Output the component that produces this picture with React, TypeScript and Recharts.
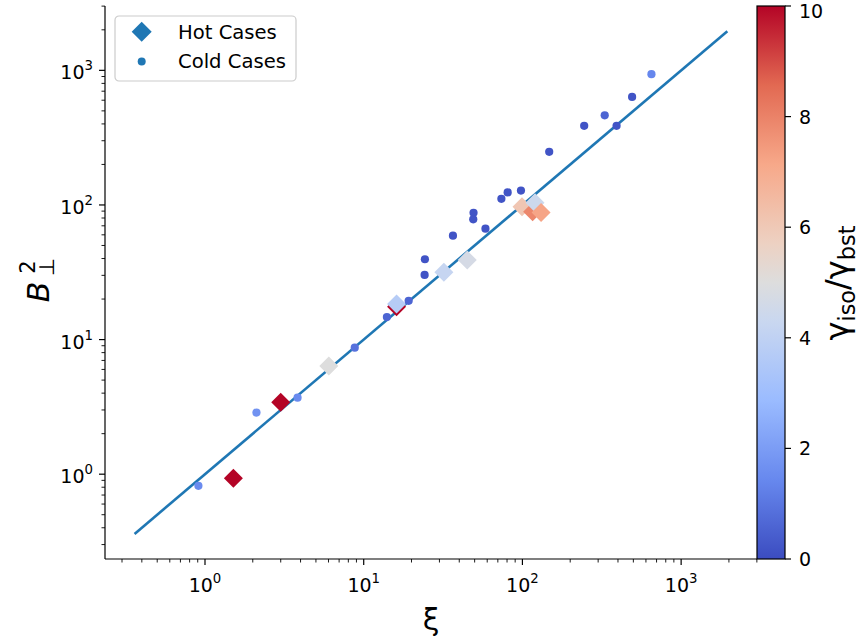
import React from "react";
import { Legend, Scatter, ScatterChart, XAxis, YAxis } from "recharts";

// hot cases (diamonds): xi, B_perp^2, gamma_iso/gamma_bst
const HOT_XI = [1.51, 3.0, 6.03, 16.1, 16.1, 32.0, 44.9, 99.4, 116, 120, 131];
const HOT_B2 = [0.934, 3.42, 6.37, 17.5, 18.4, 31.6, 39.0, 97, 89, 104, 88];
const HOT_RATIO = [10, 10, 5.0, 10, 3.7, 4.2, 4.7, 6.1, 7.9, 4.4, 7.2];

// cold cases (dots)
const COLD_XI = [0.909, 2.11, 3.83, 8.78, 14.0, 19.2, 24.2, 24.3, 36.5, 49.2, 49.0, 58.5, 73.7, 80.7, 97.9, 147.5, 245, 330, 392, 491, 650];
const COLD_B2 = [0.819, 2.87, 3.7, 8.71, 14.7, 19.4, 30.2, 39.5, 59.1, 87.5, 78.2, 66.6, 111, 124, 128, 248, 387, 463, 387, 635, 937];
const COLD_RATIO = [1.5, 1.7, 1.5, 0.9, 0.6, 0.6, 0.2, 0.2, 0.2, 0.2, 0.2, 0.2, 0.2, 0.2, 0.2, 0.2, 0.2, 0.6, 0.2, 0.2, 1.4];

// reference line B^2 = xi
const FIT_XI = [0.36, 1955];
const FIT_B2 = [0.36, 1955];

const AXIS_MIN = 0.2344;
const AXIS_MAX = 3006;
const LOG_TICKS = [
  0.3, 0.4, 0.5, 0.6, 0.7, 0.8, 0.9, 1, 2, 3, 4, 5, 6, 7, 8, 9, 10, 20, 30, 40, 50, 60, 70, 80, 90,
  100, 200, 300, 400, 500, 600, 700, 800, 900, 1000, 2000, 3000
];

const CBAR_MIN = 0;
const CBAR_MAX = 10;
const CBAR_TICKS = [0, 2, 4, 6, 8, 10];

const FONT = "DejaVu Sans";
const C0 = "#1f77b4";

const COOLWARM: [number, string][] = [
  [0, "#3b4cc0"],
  [1 / 7, "#6788ee"],
  [2 / 7, "#9abbff"],
  [3 / 7, "#c9d7f0"],
  [0.5, "#dddddd"],
  [4 / 7, "#edd1c2"],
  [5 / 7, "#f7a889"],
  [6 / 7, "#e26952"],
  [1, "#b40426"]
];

function hexToRgb(h: string) {
  return [1, 3, 5].map((i) => parseInt(h.slice(i, i + 2), 16));
}

function coolwarm(value: number) {
  const t = Math.min(1, Math.max(0, (value - CBAR_MIN) / (CBAR_MAX - CBAR_MIN)));
  for (let i = 1; i < COOLWARM.length; i++) {
    const [t1, c1] = COOLWARM[i];
    const [t0, c0] = COOLWARM[i - 1];
    if (t <= t1) {
      const f = (t - t0) / (t1 - t0);
      const a = hexToRgb(c0);
      const b = hexToRgb(c1);
      const rgb = a.map((v, k) => Math.round(v + (b[k] - v) * f));
      return `rgb(${rgb.join(",")})`;
    }
  }
  return COOLWARM[COOLWARM.length - 1][1];
}

const hotData = HOT_XI.map((xi, i) => ({ xi, b2: HOT_B2[i], color: coolwarm(HOT_RATIO[i]) }));
const coldData = COLD_XI.map((xi, i) => ({ xi, b2: COLD_B2[i], color: coolwarm(COLD_RATIO[i]) }));
const fitData = FIT_XI.map((xi, i) => ({ xi, b2: FIT_B2[i] }));

function isMajor(v: number) {
  const l = Math.log10(v);
  return Math.abs(l - Math.round(l)) < 1e-9;
}

function XTick(props: any) {
  const { x, y, payload } = props;
  const v = payload.value;
  const major = isMajor(v);
  return (
    <g>
      <line x1={x} x2={x} y1={y} y2={y + (major ? 6 : 3.5)} stroke="#000" strokeWidth={major ? 1.2 : 0.9} />
      {major ? (
        <text x={x} y={y + 33} textAnchor="middle" fontSize={19} fontFamily={FONT} fill="#000">
          10
          <tspan dy={-9} fontSize={13.3}>{Math.round(Math.log10(v))}</tspan>
        </text>
      ) : null}
    </g>
  );
}

function YTick(props: any) {
  const { x, y, payload } = props;
  const v = payload.value;
  const major = isMajor(v);
  return (
    <g>
      <line x1={x} x2={x - (major ? 6 : 3.5)} y1={y} y2={y} stroke="#000" strokeWidth={major ? 1.2 : 0.9} />
      {major ? (
        <text x={x - 12} y={y + 9} textAnchor="end" fontSize={19} fontFamily={FONT} fill="#000">
          10
          <tspan dy={-9} fontSize={13.3}>{Math.round(Math.log10(v))}</tspan>
        </text>
      ) : null}
    </g>
  );
}

function Diamond(props: any) {
  const { cx, cy, payload } = props;
  const r = 9.5;
  return (
    <polygon
      points={`${cx},${cy - r} ${cx + r},${cy} ${cx},${cy + r} ${cx - r},${cy}`}
      fill={payload.color}
    />
  );
}

function Dot(props: any) {
  const { cx, cy, payload } = props;
  return <circle cx={cx} cy={cy} r={4.1} fill={payload.color} />;
}

function LegendBox() {
  return (
    <svg width={184} height={68} style={{ display: "block" }}>
      <rect x={1} y={1} width={181} height={65} rx={4} fill="#fff" fillOpacity={0.8} stroke="#cccccc" strokeWidth={1.2} />
      <polygon points="27.7,6.8 37.7,16.8 27.7,26.8 17.7,16.8" fill={C0} />
      <text x={64} y={23.6} fontSize={19.6} fontFamily={FONT} fill="#000">Hot Cases</text>
      <circle cx={27.7} cy={46.5} r={4} fill={C0} />
      <text x={64} y={53.3} fontSize={19.6} fontFamily={FONT} fill="#000">Cold Cases</text>
    </svg>
  );
}

const PLOT_TOP = 6;
const PLOT_BOTTOM = 559;
const CBAR_LEFT = 757;
const CBAR_WIDTH = 28;

function cbarY(v: number) {
  return PLOT_BOTTOM - ((v - CBAR_MIN) / (CBAR_MAX - CBAR_MIN)) * (PLOT_BOTTOM - PLOT_TOP);
}

function Overlay() {
  return (
    <svg width={866} height={642} style={{ position: "absolute", left: 0, top: 0, pointerEvents: "none" }}>
      <defs>
        <linearGradient id="cw" x1="0" y1="1" x2="0" y2="0">
          {COOLWARM.map(([t, c]) => (
            <stop key={t} offset={t} stopColor={c} />
          ))}
        </linearGradient>
      </defs>
      <rect x={CBAR_LEFT} y={PLOT_TOP} width={CBAR_WIDTH} height={PLOT_BOTTOM - PLOT_TOP} fill="url(#cw)" stroke="#000" strokeWidth={1.2} />
      {CBAR_TICKS.map((t) => (
        <g key={t}>
          <line x1={CBAR_LEFT + CBAR_WIDTH} x2={CBAR_LEFT + CBAR_WIDTH + 6} y1={cbarY(t)} y2={cbarY(t)} stroke="#000" strokeWidth={1.2} />
          <text x={CBAR_LEFT + CBAR_WIDTH + 14} y={Math.max(cbarY(t) + 7, 17.5)} fontSize={19} fontFamily={FONT} fill="#000">
            {t}
          </text>
        </g>
      ))}
      <g transform="translate(848,283) rotate(-90)">
        <text x={0} y={0} textAnchor="middle" fontSize={32} fontFamily={FONT} fill="#000">
          γ<tspan dy={7} fontSize={22.4}>iso</tspan>
          <tspan dy={-7}>/γ</tspan>
          <tspan dy={7} fontSize={22.4}>bst</tspan>
        </text>
      </g>
      <text x={431} y={630} textAnchor="middle" fontSize={30} fontFamily={FONT} fill="#000">ξ</text>
      <g transform="translate(49,282) rotate(-90)">
        <text x={-10} y={0} textAnchor="middle" fontSize={30} fontStyle="italic" fontFamily={FONT} fill="#000">B</text>
        <text x={15} y={-14} textAnchor="middle" fontSize={21} fontFamily={FONT} fill="#000">2</text>
        <text x={15} y={5} textAnchor="middle" fontSize={21} fontFamily={FONT} fill="#000">⊥</text>
      </g>
    </svg>
  );
}

export default function App() {
  return (
    <div style={{ position: "absolute", left: 0, top: 0, width: 866, height: 642, background: "#fff" }}>
      <ScatterChart width={866} height={642} margin={{ top: 6, right: 109, bottom: 43, left: 45 }}>
        <XAxis
          dataKey="xi"
          type="number"
          scale="log"
          domain={[AXIS_MIN, AXIS_MAX]}
          allowDataOverflow
          ticks={LOG_TICKS}
          interval={0}
          tick={<XTick />}
          tickSize={0}
          tickMargin={0}
          tickLine={false}
          height={40}
          axisLine={{ stroke: "#000", strokeWidth: 1.2 }}
        />
        <XAxis
          xAxisId="top"
          orientation="top"
          type="number"
          scale="log"
          domain={[AXIS_MIN, AXIS_MAX]}
          allowDataOverflow
          height={0}
          tick={false}
          tickLine={false}
          axisLine={{ stroke: "#000", strokeWidth: 1.2 }}
        />
        <YAxis
          dataKey="b2"
          type="number"
          scale="log"
          domain={[AXIS_MIN, AXIS_MAX]}
          allowDataOverflow
          ticks={LOG_TICKS}
          interval={0}
          tick={<YTick />}
          tickSize={0}
          tickMargin={0}
          tickLine={false}
          width={60}
          axisLine={{ stroke: "#000", strokeWidth: 1.2 }}
        />
        <YAxis
          yAxisId="right"
          orientation="right"
          type="number"
          scale="log"
          domain={[AXIS_MIN, AXIS_MAX]}
          allowDataOverflow
          width={0}
          tick={false}
          tickLine={false}
          axisLine={{ stroke: "#000", strokeWidth: 1.2 }}
        />
        <Scatter
          data={fitData}
          line={{ stroke: C0, strokeWidth: 2.6 }}
          lineType="joint"
          shape={() => <g />}
          isAnimationActive={false}
        />
        <Scatter data={hotData} shape={<Diamond />} isAnimationActive={false} />
        <Scatter data={coldData} shape={<Dot />} isAnimationActive={false} />
        <Legend
          layout="vertical"
          align="center"
          verticalAlign="middle"
          content={() => <LegendBox />}
          wrapperStyle={{ left: 114, top: 15, width: 184, height: 68 }}
        />
      </ScatterChart>
      <Overlay />
    </div>
  );
}
